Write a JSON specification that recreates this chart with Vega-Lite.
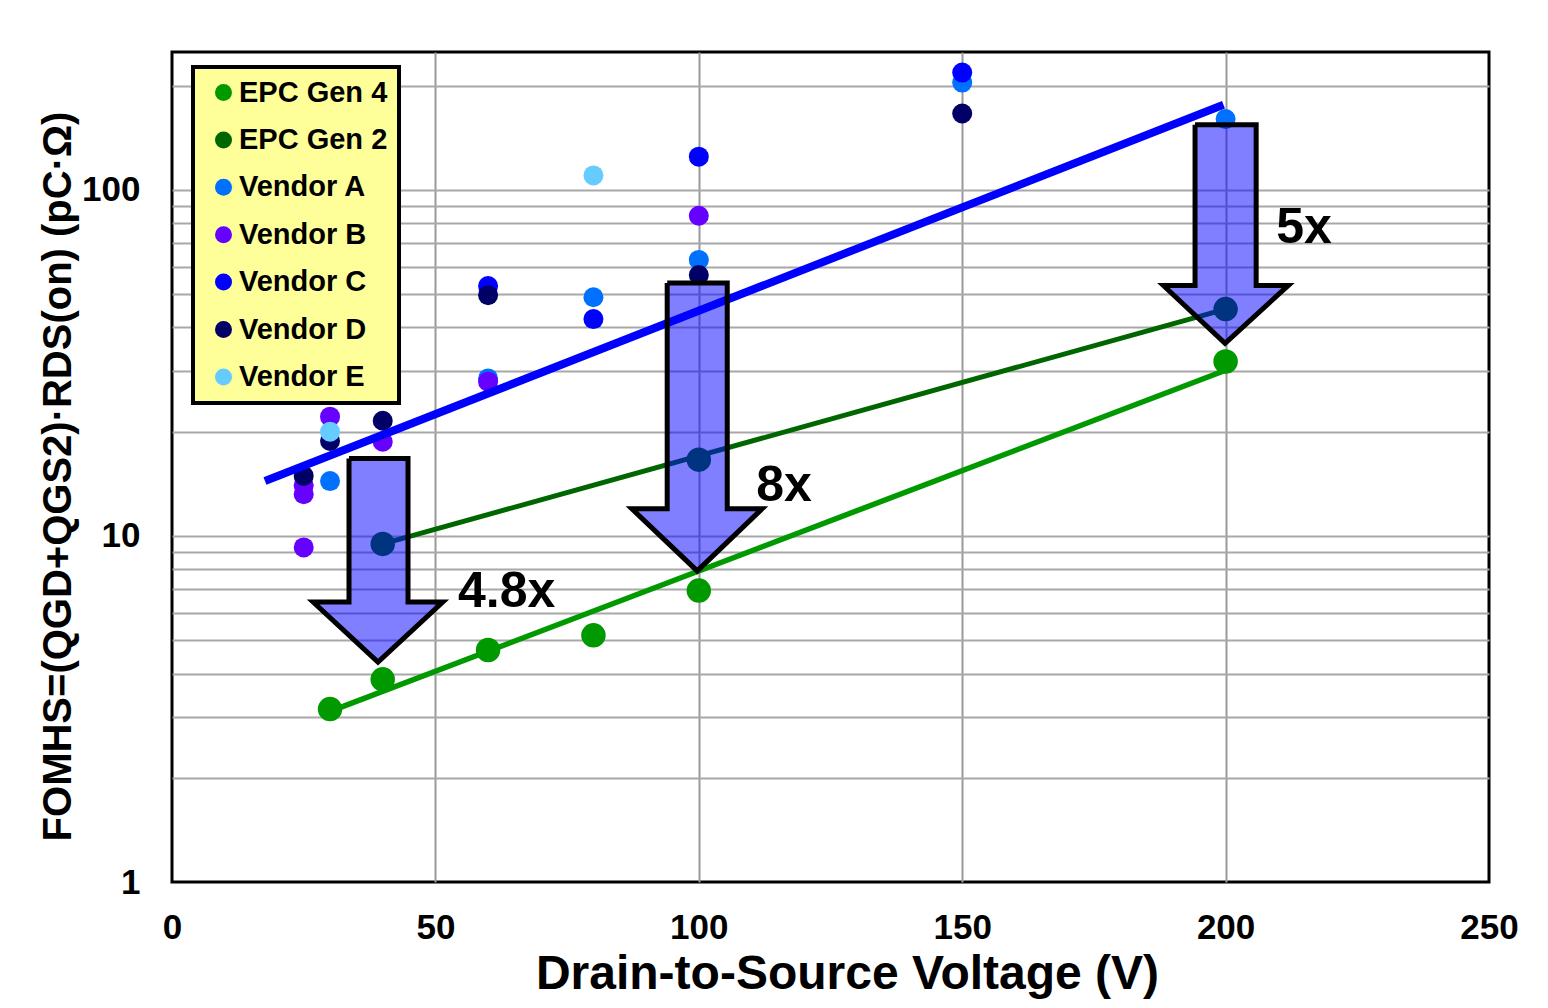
{
  "$schema": "https://vega.github.io/schema/vega-lite/v6.json",
  "width": 1317,
  "height": 830,
  "autosize": {"type": "none"},
  "padding": {"left": 172, "top": 52, "right": 59, "bottom": 126},
  "background": "white",
  "config": {
    "font": "Liberation Sans",
    "view": {"stroke": "black", "strokeWidth": 3},
    "axis": {
      "labelFont": "Liberation Sans",
      "labelFontWeight": "bold",
      "labelColor": "black",
      "titleFont": "Liberation Sans",
      "titleFontWeight": "bold",
      "titleColor": "black",
      "domain": false,
      "ticks": false,
      "gridColor": "#a8a8a8",
      "gridWidth": 2,
      "labelOverlap": false,
      "labelFlush": false,
      "labelBound": false
    }
  },
  "datasets": {
    "vendors": [
      {"series": "Vendor A", "v": 30, "fom": 14.4},
      {"series": "Vendor A", "v": 60, "fom": 28.5},
      {"series": "Vendor A", "v": 80, "fom": 48.9},
      {"series": "Vendor A", "v": 100, "fom": 62.7},
      {"series": "Vendor A", "v": 150, "fom": 204},
      {"series": "Vendor A", "v": 200, "fom": 160},
      {"series": "Vendor B", "v": 25, "fom": 9.26},
      {"series": "Vendor B", "v": 25, "fom": 13.2},
      {"series": "Vendor B", "v": 25, "fom": 14.0},
      {"series": "Vendor B", "v": 30, "fom": 22.1},
      {"series": "Vendor B", "v": 40, "fom": 18.7},
      {"series": "Vendor B", "v": 60, "fom": 27.9},
      {"series": "Vendor B", "v": 100, "fom": 84.1},
      {"series": "Vendor C", "v": 60, "fom": 52.7},
      {"series": "Vendor C", "v": 80, "fom": 42.3},
      {"series": "Vendor C", "v": 100, "fom": 124.6},
      {"series": "Vendor C", "v": 150, "fom": 218},
      {"series": "Vendor D", "v": 25, "fom": 14.9},
      {"series": "Vendor D", "v": 30, "fom": 18.8},
      {"series": "Vendor D", "v": 40, "fom": 21.5},
      {"series": "Vendor D", "v": 60, "fom": 49.6},
      {"series": "Vendor D", "v": 100, "fom": 56.7},
      {"series": "Vendor D", "v": 150, "fom": 166},
      {"series": "Vendor E", "v": 30, "fom": 20.0},
      {"series": "Vendor E", "v": 80, "fom": 110}
    ],
    "epc": [
      {"series": "EPC Gen 2", "v": 40, "fom": 9.48},
      {"series": "EPC Gen 2", "v": 100, "fom": 16.6},
      {"series": "EPC Gen 2", "v": 200, "fom": 45.2},
      {"series": "EPC Gen 4", "v": 30, "fom": 3.16},
      {"series": "EPC Gen 4", "v": 40, "fom": 3.85},
      {"series": "EPC Gen 4", "v": 60, "fom": 4.68},
      {"series": "EPC Gen 4", "v": 80, "fom": 5.16},
      {"series": "EPC Gen 4", "v": 100, "fom": 6.95},
      {"series": "EPC Gen 4", "v": 200, "fom": 31.9}
    ],
    "vendorTrend": [
      {"v": 17.65, "fom": 14.4},
      {"v": 199.6, "fom": 176}
    ],
    "gen2Trend": [
      {"v": 40, "fom": 9.48},
      {"v": 200, "fom": 45.2}
    ],
    "gen4Trend": [
      {"v": 30, "fom": 3.11},
      {"v": 200, "fom": 30.1}
    ],
    "arrows": [
      {"arrow": 1, "i": 0, "v": 33.6, "fom": 16.72},
      {"arrow": 1, "i": 1, "v": 44.8, "fom": 16.72},
      {"arrow": 1, "i": 2, "v": 44.8, "fom": 6.44},
      {"arrow": 1, "i": 3, "v": 51.4, "fom": 6.44},
      {"arrow": 1, "i": 4, "v": 39.1, "fom": 4.32},
      {"arrow": 1, "i": 5, "v": 26.8, "fom": 6.44},
      {"arrow": 1, "i": 6, "v": 33.6, "fom": 6.44},
      {"arrow": 1, "i": 7, "v": 33.6, "fom": 16.72},
      {"arrow": 2, "i": 0, "v": 94.0, "fom": 53.8},
      {"arrow": 2, "i": 1, "v": 105.4, "fom": 53.8},
      {"arrow": 2, "i": 2, "v": 105.4, "fom": 11.97},
      {"arrow": 2, "i": 3, "v": 112.0, "fom": 11.97},
      {"arrow": 2, "i": 4, "v": 99.7, "fom": 7.92},
      {"arrow": 2, "i": 5, "v": 87.3, "fom": 11.97},
      {"arrow": 2, "i": 6, "v": 94.0, "fom": 11.97},
      {"arrow": 2, "i": 7, "v": 94.0, "fom": 53.8},
      {"arrow": 3, "i": 0, "v": 194.2, "fom": 154},
      {"arrow": 3, "i": 1, "v": 205.8, "fom": 154},
      {"arrow": 3, "i": 2, "v": 205.8, "fom": 52.9},
      {"arrow": 3, "i": 3, "v": 211.9, "fom": 52.9},
      {"arrow": 3, "i": 4, "v": 199.9, "fom": 36.0},
      {"arrow": 3, "i": 5, "v": 188.2, "fom": 52.9},
      {"arrow": 3, "i": 6, "v": 194.2, "fom": 52.9},
      {"arrow": 3, "i": 7, "v": 194.2, "fom": 154}
    ],
    "labels": [
      {"t": "4.8x", "v": 54.3, "fom": 6.23},
      {"t": "8x", "v": 110.9, "fom": 12.63},
      {"t": "5x", "v": 209.6, "fom": 70.2}
    ]
  },
  "encoding": {
    "x": {
      "field": "v",
      "type": "quantitative",
      "scale": {"domain": [0, 250], "nice": false, "zero": false},
      "axis": {
        "values": [0, 50, 100, 150, 200, 250],
        "labelFontSize": 35,
        "labelPadding": 28,
        "gridOpacity": {"condition": {"test": "datum.value == 0 || datum.value == 250", "value": 0}, "value": 1},
        "gridColor": "#999999",
        "title": "Drain-to-Source Voltage (V)",
        "titleFontSize": 48,
        "titlePadding": 5,
        "titleX": 675
      }
    },
    "y": {
      "field": "fom",
      "type": "quantitative",
      "scale": {"type": "log", "domain": [1, 250], "nice": false},
      "axis": {
        "values": [1, 2, 3, 4, 5, 6, 7, 8, 9, 10, 20, 30, 40, 50, 60, 70, 80, 90, 100, 200],
        "labelExpr": "datum.value == 1 || datum.value == 10 || datum.value == 100 ? datum.label : ''",
        "labelFontSize": 35,
        "labelPadding": 32,
        "gridOpacity": {"condition": {"test": "datum.value == 1", "value": 0}, "value": 1},
        "title": "FOMHS=(QGD+QGS2)·RDS(on) (pC·Ω)",
        "titleFontSize": 40,
        "titleAngle": 270,
        "titleBaseline": "alphabetic",
        "titleAlign": "center",
        "titleX": -102,
        "titleY": 424
      }
    }
  },
  "layer": [
    {
      "data": {"name": "vendors"},
      "mark": {"type": "circle", "size": 400, "opacity": 1},
      "encoding": {
        "color": {
          "field": "series",
          "type": "nominal",
          "scale": {
            "domain": ["EPC Gen 4", "EPC Gen 2", "Vendor A", "Vendor B", "Vendor C", "Vendor D", "Vendor E"],
            "range": ["#009900", "#006600", "#0070ff", "#6600ff", "#0000ff", "#000066", "#66ccff"]
          },
          "legend": {
            "title": null,
            "orient": "none",
            "legendX": 21,
            "legendY": 15,
            "fillColor": "#ffff99",
            "strokeColor": "black",
            "padding": 11,
            "rowPadding": 17.4,
            "labelFontSize": 29,
            "labelFont": "Liberation Sans",
            "labelFontWeight": "bold",
            "labelColor": "black",
            "symbolType": "circle",
            "symbolSize": 289,
            "symbolStrokeWidth": 0,
            "symbolOpacity": 1,
            "symbolOffset": 5,
            "labelOffset": 1,
            "labelLimit": 400,
            "encode": {"legend": {"update": {"strokeWidth": {"value": 4}}}}
          }
        }
      }
    },
    {
      "data": {"name": "vendorTrend"},
      "mark": {"type": "line", "color": "#0000ff", "strokeWidth": 8},
      "encoding": {}
    },
    {
      "data": {"name": "gen2Trend"},
      "mark": {"type": "line", "color": "#006600", "strokeWidth": 5},
      "encoding": {}
    },
    {
      "data": {"name": "gen4Trend"},
      "mark": {"type": "line", "color": "#009900", "strokeWidth": 5.5},
      "encoding": {}
    },
    {
      "data": {"name": "epc"},
      "mark": {"type": "circle", "size": 600, "opacity": 1},
      "encoding": {
        "color": {"field": "series", "type": "nominal"}
      }
    },
    {
      "data": {"name": "arrows"},
      "mark": {
        "type": "line",
        "stroke": "black",
        "strokeWidth": 5,
        "fill": "#0000ff",
        "fillOpacity": 0.5,
        "strokeJoin": "miter",
        "strokeMiterLimit": 10
      },
      "encoding": {
        "detail": {"field": "arrow", "type": "nominal"},
        "order": {"field": "i", "type": "quantitative"}
      }
    },
    {
      "data": {"name": "labels"},
      "mark": {
        "type": "text",
        "align": "left",
        "baseline": "alphabetic",
        "fontSize": 50,
        "fontWeight": "bold",
        "font": "Liberation Sans",
        "color": "black"
      },
      "encoding": {
        "text": {"field": "t", "type": "nominal"}
      }
    }
  ]
}
